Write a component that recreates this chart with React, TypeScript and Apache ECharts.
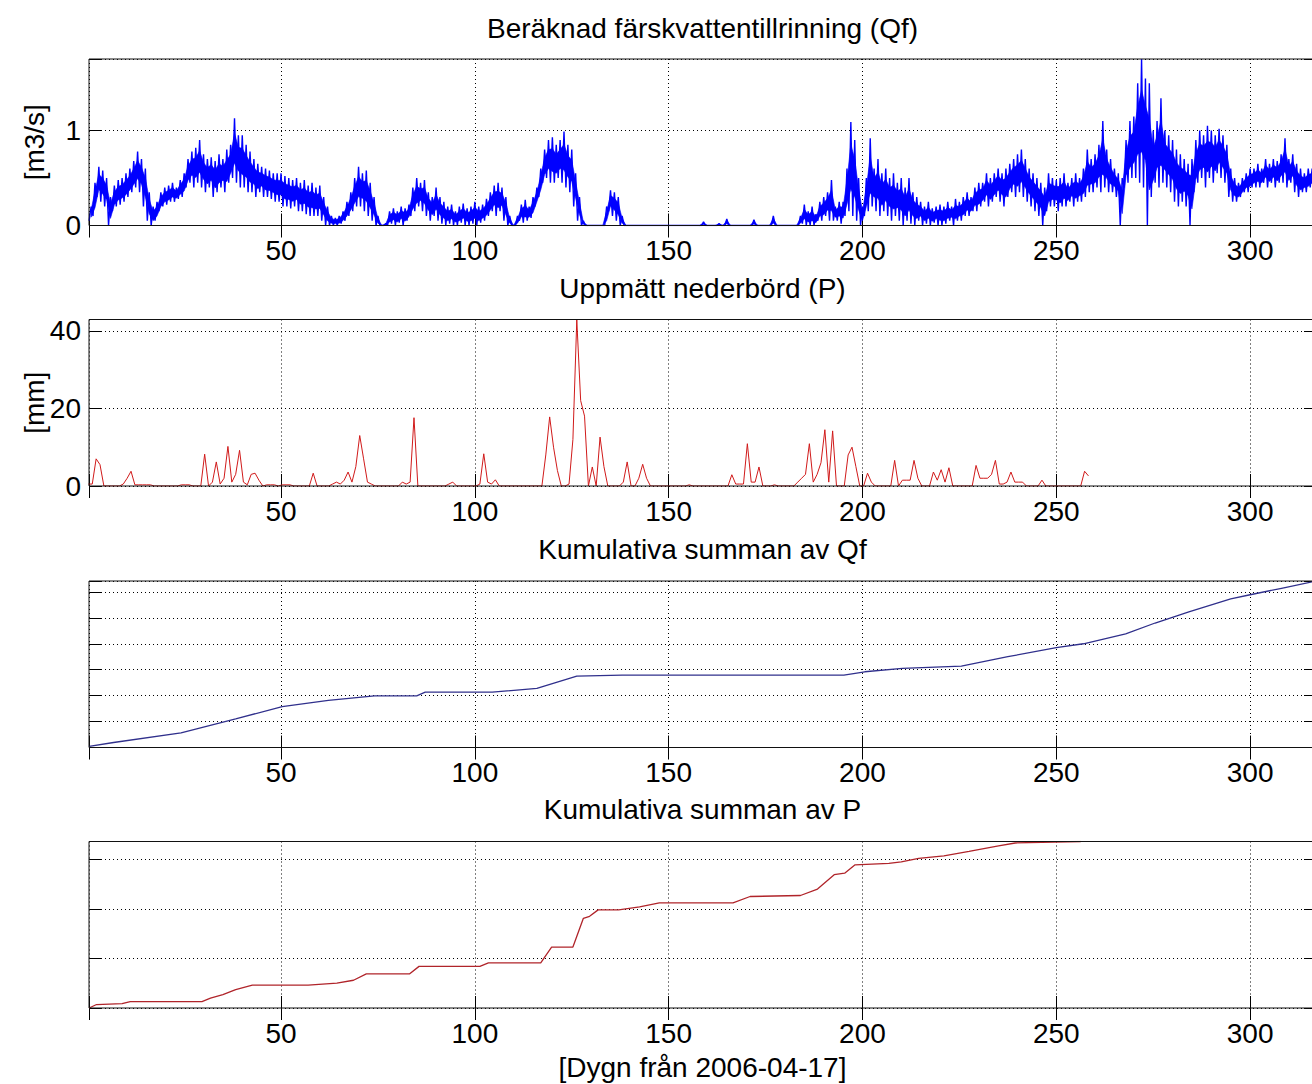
import React, { useEffect, useRef } from "react";
import * as echarts from "echarts";

// ---------- DATA ----------
// Qf: daily band (low / high) in m3/s, days 1..317
const qfHigh = [
  0.2, 0.45, 0.62, 0.58, 0.5, 0.3, 0.42, 0.48, 0.5, 0.55,
  0.6, 0.68, 0.78, 0.7, 0.6, 0.35, 0.2, 0.25, 0.35, 0.4,
  0.42, 0.45, 0.4, 0.48, 0.55, 0.7, 0.78, 0.82, 0.9, 0.75,
  0.7, 0.72, 0.68, 0.75, 0.7, 0.8, 0.85, 1.13, 0.95, 0.95,
  0.85, 0.78, 0.7, 0.65, 0.62, 0.6, 0.58, 0.55, 0.55, 0.55,
  0.52, 0.5, 0.48, 0.5, 0.45, 0.48, 0.42, 0.45, 0.4, 0.42,
  0.3, 0.2, 0.1, 0.08, 0.1, 0.15, 0.25, 0.35, 0.5, 0.62,
  0.55, 0.58, 0.45, 0.3, 0.1, 0.0, 0.02, 0.15, 0.18, 0.15,
  0.2, 0.18, 0.22, 0.4, 0.5, 0.45, 0.48, 0.35, 0.3, 0.4,
  0.3, 0.25, 0.2, 0.22, 0.15, 0.2, 0.23, 0.18, 0.2, 0.25,
  0.2, 0.22, 0.28, 0.35, 0.42, 0.45, 0.4, 0.3, 0.1, 0.0,
  0.1, 0.22, 0.27, 0.2, 0.3, 0.4, 0.6, 0.8, 0.9, 0.93,
  0.85, 0.9, 0.99, 0.85, 0.8, 0.55, 0.3, 0.05, 0, 0,
  0, 0, 0, 0.2, 0.37, 0.35, 0.3, 0.1, 0, 0,
  0, 0, 0, 0, 0, 0, 0, 0, 0, 0,
  0, 0, 0, 0, 0, 0, 0, 0, 0.04, 0,
  0, 0, 0.02, 0, 0.07, 0, 0, 0, 0, 0,
  0, 0.06, 0, 0, 0, 0, 0.1, 0, 0, 0,
  0, 0, 0, 0.1, 0.22, 0.15, 0.2, 0.12, 0.25, 0.3,
  0.35, 0.48, 0.2, 0.25, 0.25, 0.6, 1.09, 0.9, 0.5, 0.2,
  0.5, 0.92, 0.6, 0.7, 0.55, 0.6, 0.5, 0.55, 0.45, 0.5,
  0.4, 0.5, 0.35, 0.3, 0.25, 0.2, 0.25, 0.18, 0.2, 0.22,
  0.2, 0.25, 0.2, 0.28, 0.25, 0.3, 0.35, 0.3, 0.4, 0.45,
  0.45, 0.55, 0.5, 0.55, 0.6, 0.55, 0.6, 0.65, 0.7, 0.75,
  0.8, 0.7, 0.6, 0.55, 0.5, 0.45, 0.4, 0.55, 0.5, 0.48,
  0.5, 0.55, 0.45, 0.5, 0.55, 0.5, 0.6, 0.8, 0.7, 0.75,
  0.85, 1.1, 0.8, 0.7, 0.6, 0.55, 0.5, 0.9, 1.1, 1.15,
  1.5, 1.755, 1.55, 1.5, 1.0, 1.1, 1.34, 1.0, 0.95, 0.9,
  0.8, 0.75, 0.7, 0.65, 0.7, 0.9, 1.0, 0.95, 1.05, 1.0,
  0.95, 1.02, 0.95, 0.85, 0.6, 0.5, 0.45, 0.5, 0.55, 0.6,
  0.6, 0.65, 0.6, 0.7, 0.65, 0.7, 0.68, 0.75, 0.92, 0.7,
  0.75, 0.65, 0.6, 0.55, 0.6, 0.6, 0.55,
];
const qfLow = [
  0.05, 0.1, 0.3, 0.25, 0.2, 0.0, 0.15, 0.2, 0.22, 0.25,
  0.3, 0.35, 0.4, 0.35, 0.2, 0.05, 0.0, 0.05, 0.15, 0.2,
  0.22, 0.25, 0.25, 0.28, 0.3, 0.4, 0.45, 0.4, 0.45, 0.4,
  0.35, 0.4, 0.3, 0.35, 0.4, 0.35, 0.45, 0.5, 0.45, 0.4,
  0.4, 0.35, 0.35, 0.3, 0.35, 0.3, 0.3, 0.28, 0.25, 0.25,
  0.2, 0.2, 0.18, 0.2, 0.15, 0.15, 0.12, 0.1, 0.1, 0.1,
  0.05, 0, 0, 0, 0, 0.02, 0.05, 0.1, 0.15, 0.2,
  0.2, 0.15, 0.1, 0.05, 0, 0, 0, 0, 0.02, 0,
  0.03, 0, 0.05, 0.1, 0.15, 0.2, 0.15, 0.1, 0.05, 0.1,
  0.05, 0.02, 0, 0.02, 0, 0, 0.03, 0, 0, 0.02,
  0, 0.03, 0.05, 0.1, 0.15, 0.1, 0.15, 0.05, 0, 0,
  0, 0.05, 0.03, 0.05, 0.08, 0.2, 0.3, 0.45, 0.5, 0.45,
  0.45, 0.5, 0.45, 0.4, 0.35, 0.2, 0.05, 0, 0, 0,
  0, 0, 0, 0, 0.15, 0.1, 0.05, 0, 0, 0,
  0, 0, 0, 0, 0, 0, 0, 0, 0, 0,
  0, 0, 0, 0, 0, 0, 0, 0, 0, 0,
  0, 0, 0, 0, 0, 0, 0, 0, 0, 0,
  0, 0, 0, 0, 0, 0, 0, 0, 0, 0,
  0, 0, 0, 0, 0.02, 0, 0, 0, 0.05, 0.05,
  0.1, 0.05, 0.05, 0.05, 0.02, 0.1, 0.15, 0.1, 0.05, 0,
  0.1, 0.15, 0.2, 0.15, 0.1, 0.15, 0.1, 0.05, 0.1, 0.05,
  0, 0.05, 0.02, 0, 0.05, 0, 0.02, 0, 0.03, 0,
  0, 0.02, 0.05, 0, 0.05, 0.05, 0.1, 0.1, 0.15, 0.15,
  0.2, 0.25, 0.2, 0.25, 0.3, 0.25, 0.2, 0.3, 0.35, 0.3,
  0.35, 0.3, 0.25, 0.2, 0.15, 0.1, 0, 0.15, 0.2, 0.2,
  0.15, 0.2, 0.2, 0.25, 0.2, 0.25, 0.25, 0.3, 0.35, 0.35,
  0.4, 0.35, 0.4, 0.35, 0.35, 0.3, 0, 0.4, 0.45, 0.5,
  0.5, 0.45, 0.4, 0, 0.3, 0.45, 0.4, 0.45, 0.4, 0.35,
  0.25, 0.2, 0.25, 0.2, 0, 0.35, 0.45, 0.5, 0.4, 0.5,
  0.45, 0.55, 0.5, 0.45, 0.3, 0.25, 0.25, 0.3, 0.35, 0.35,
  0.4, 0.4, 0.4, 0.45, 0.4, 0.45, 0.4, 0.45, 0.45, 0.4,
  0.45, 0.35, 0.3, 0.35, 0.35, 0.4, 0.4,
];

// P: daily precipitation in mm, first value at day 0.3
const pFirstDay = 0.3;
const pVals = [
  0.5, 0.5, 7.0, 5.5, 0, 0, 0, 0, 0, 0.5,
  2.0, 3.8, 0.3, 0.3, 0.3, 0.3, 0.3, 0, 0, 0,
  0, 0, 0, 0, 0.3, 0.3, 0.3, 0, 0, 0,
  8.2, 0, 1.0, 6.2, 0.5, 2.0, 10.2, 1.0, 3.0, 9.2,
  1.0, 0.3, 3.0, 3.3, 1.5, 0, 0.3, 0.3, 0.3, 0,
  0.3, 0.3, 0.3, 0, 0, 0, 0, 0, 3.3, 0,
  0, 0, 0, 0.5, 1.0, 0.5, 1.5, 3.6, 1.0, 5.0,
  13.0, 7.0, 1.0, 0.5, 0, 0, 0, 0, 0, 0,
  0, 1.0, 0.5, 1.0, 17.6, 0, 0, 0, 0, 0,
  0, 0, 0, 0.5, 1.0, 0, 0, 0, 0, 0,
  0, 0.5, 8.3, 1.0, 0.5, 1.6, 0, 0, 0, 0,
  0, 0, 0, 0, 0, 0, 0, 0, 8.0, 17.8,
  10.0, 4.0, 0, 0, 0.5, 12.0, 42.8, 22.0, 18.0, 0,
  4.9, 0, 12.6, 5.0, 0, 0, 0, 0, 1.0, 6.2,
  0, 0, 2.0, 5.6, 2.0, 0, 0, 0, 0, 0,
  0, 0, 0, 0, 0, 0.3, 0, 0, 0, 0,
  0, 0, 0, 0, 0, 0, 2.9, 0.5, 0.5, 0.5,
  10.9, 1.0, 1.0, 4.9, 0, 0, 0, 0.3, 0, 0,
  0, 0, 0, 1.0, 2.0, 3.0, 10.9, 1.0, 3.0, 6.0,
  14.5, 1.0, 14.2, 0, 0, 0, 8.0, 10.0, 5.0, 0,
  0, 3.3, 1.0, 0, 0, 0, 0, 0, 6.6, 0,
  1.5, 1.5, 1.5, 6.6, 2.0, 0, 0, 0, 3.6, 1.5,
  4.2, 1.0, 4.7, 0, 0, 0, 0, 0, 0, 5.3,
  2.0, 2.0, 2.0, 3.0, 6.6, 0.5, 0.5, 1.0, 3.6, 1.0,
  1.0, 1.0, 0, 0, 0, 0, 1.5, 0, 0, 0,
  0, 0, 0, 0, 0, 0, 0, 3.8, 2.6,
];

// Cumulative Qf (10^6 m3), read at curve corners
const qfCumDays = [0.5, 6.8, 24.2, 38.3, 50.3, 62.2, 74.1, 85, 87.2, 104.5, 116, 126.3, 138, 195.2, 200.6, 210.3, 225.5, 237.5, 250, 257, 267.9, 275.5, 284.2, 295, 299.7, 308.1, 317];
const qfCumVals = [0.06, 0.29, 0.84, 1.65, 2.37, 2.73, 2.99, 2.99, 3.2, 3.2, 3.42, 4.13, 4.19, 4.19, 4.38, 4.58, 4.71, 5.25, 5.78, 6.0, 6.57, 7.2, 7.85, 8.6, 8.82, 9.21, 9.63];

// Cumulative P (mm), read at curve corners
const pCumDays = [0.5, 2.4, 9, 11.1, 29.6, 31.8, 35, 38.3, 42.6, 57, 64.4, 68.7, 72, 83.2, 85.6, 101.3, 103.5, 117, 119.8, 125.3, 128, 129.6, 131.8, 137.1, 142.5, 147.6, 166.6, 171, 184, 188.4, 192.7, 195.4, 198.1, 206.8, 210, 214.5, 221, 227.5, 235.1, 239.4, 256.3];
const pCumVals = [0, 10.5, 13, 19.5, 19.5, 30, 40.5, 55.5, 69, 69, 75, 84, 103.5, 103.5, 126, 126, 136.5, 136.5, 184.5, 184.5, 271.5, 277.5, 297, 297, 306, 318, 318, 337.5, 340.5, 360, 403.5, 408, 433.5, 438, 442.5, 453, 460.5, 474, 490.5, 499.5, 504];

const titles = [
  "Beräknad färskvattentillrinning (Qf)",
  "Uppmätt nederbörd (P)",
  "Kumulativa summan av Qf",
  "Kumulativa summan av P",
];
const yNames = ["[m3/s]", "[mm]", "", ""];
const xLabel = "[Dygn från 2006-04-17]";
const xTickStep = 50;
const xRange = [0.46, 317];
const yRanges = [
  { min: 0, max: 1.755, interval: 1 },
  { min: 0, max: 42.9, interval: 20 },
  { min: 0, max: 9.63, interval: 1.5 },
  { min: 0, max: 504, interval: 150 },
];
const showYLabels = [true, true, false, false];

// ---------- LAYOUT / STYLE ----------
const W = 1312;
const H = 1084;
const LEFT = 89;
const PW = 1227;
const PH = 166.5;
const TOPS = [59, 319.5, 581, 841.5];
const TITLE_Y = [28, 288.5, 549, 809.5];
const FONT = '"Liberation Sans", Arial, Helvetica, sans-serif';
const FS = 28;
const colors = ["#0000ff", "#d01a1a", "#30308c", "#b0242a"];
const widths = [1.4, 1, 1.3, 1.3];
const CORE = 0.25; // inset of the solid core band inside the low/high envelope

function isMultiple(v: number, step: number) {
  const r = v / step;
  return Math.abs(r - Math.round(r)) < 1e-6;
}

export default function App() {
  const ref = useRef<HTMLDivElement>(null);

  useEffect(() => {
    if (!ref.current) return;
    const chart = echarts.init(ref.current, null, { renderer: "svg", width: W, height: H });

    const qfData: number[][] = [];
    const coreData: number[][] = [];
    qfHigh.forEach((h, i) => {
      const d = i + 1;
      const lo = qfLow[i];
      qfData.push([d - 0.5, lo]);
      qfData.push([d, h]);
      coreData.push([d, lo + CORE * (h - lo), h - CORE * (h - lo)]);
    });
    const pData = pVals.map((v, i) => [i + pFirstDay, v]);
    const qfCumData = qfCumDays.map((d, i) => [d, qfCumVals[i]]);
    const pCumData = pCumDays.map((d, i) => [d, pCumVals[i]]);
    const seriesData = [qfData, pData, qfCumData, pCumData];

    const grids: any[] = [];
    const xAxes: any[] = [];
    const yAxes: any[] = [];
    const series: any[] = [];
    const tickStyle = { show: true, inside: true, length: 12, lineStyle: { color: "#000", width: 1 } };
    const dotted = { show: true, lineStyle: { color: "#000", width: 1, type: [1, 3] } };

    for (let k = 0; k < 4; k++) {
      grids.push({
        left: LEFT,
        top: TOPS[k],
        width: PW,
        height: PH,
        show: true,
        borderColor: "#111",
        borderWidth: 1,
        backgroundColor: "transparent",
        z: 10,
        containLabel: false,
        outerBoundsMode: "none",
      });
      const yr = yRanges[k];
      xAxes.push({
        type: "value",
        gridIndex: k,
        position: "bottom",
        min: xRange[0],
        max: xRange[1],
        minInterval: xTickStep,
        maxInterval: xTickStep,
        axisLine: { show: false },
        axisTick: tickStyle,
        axisLabel: {
          show: true,
          margin: 11,
          color: "#000",
          fontSize: FS,
          fontFamily: FONT,
          formatter: (v: number) => (v > 1 && isMultiple(v, xTickStep) ? String(Math.round(v)) : ""),
        },
        splitLine: dotted,
      });
      xAxes.push({
        type: "value",
        gridIndex: k,
        position: "top",
        min: xRange[0],
        max: xRange[1],
        minInterval: xTickStep,
        maxInterval: xTickStep,
        axisLine: { show: false },
        axisTick: tickStyle,
        axisLabel: { show: false },
        splitLine: { show: false },
      });
      yAxes.push({
        type: "value",
        gridIndex: k,
        position: "left",
        min: yr.min,
        max: yr.max,
        interval: yr.interval,
        axisLine: { show: false },
        axisTick: tickStyle,
        axisLabel: {
          show: showYLabels[k],
          margin: 8,
          color: "#000",
          fontSize: FS,
          fontFamily: FONT,
          formatter: (v: number) => (isMultiple(v, yr.interval) ? String(Math.round(v)) : ""),
        },
        splitLine: dotted,
      });
      yAxes.push({
        type: "value",
        gridIndex: k,
        position: "right",
        min: yr.min,
        max: yr.max,
        interval: yr.interval,
        axisLine: { show: false },
        axisTick: tickStyle,
        axisLabel: { show: false },
        splitLine: { show: false },
      });
      series.push({
        type: "line",
        xAxisIndex: 2 * k,
        yAxisIndex: 2 * k,
        data: seriesData[k],
        showSymbol: false,
        symbol: "none",
        lineStyle: { color: colors[k], width: widths[k] },
        clip: true,
        z: 4,
      });
    }

    // solid core of the Qf band, drawn as one polygon
    series.push({
      type: "custom",
      xAxisIndex: 0,
      yAxisIndex: 0,
      data: coreData,
      z: 3,
      renderItem: (params: any, api: any) => {
        if (params.dataIndex !== 0) return null;
        const upper = coreData.map((c) => api.coord([c[0], c[2]]));
        const lower = coreData.map((c) => api.coord([c[0], c[1]])).reverse();
        return {
          type: "polygon",
          shape: { points: upper.concat(lower) },
          style: { fill: "#0000ff", stroke: "#0000ff", lineWidth: 0.6 },
        };
      },
    });

    const graphics: any[] = titles.map((t, k) => ({
      type: "text",
      x: LEFT + PW / 2,
      y: TITLE_Y[k],
      style: { text: t, fontSize: FS, fontFamily: FONT, fill: "#000", align: "center", verticalAlign: "middle" },
    }));
    yNames.forEach((n, k) => {
      if (!n) return;
      graphics.push({
        type: "text",
        x: 34,
        y: TOPS[k] + PH / 2,
        rotation: Math.PI / 2,
        style: { text: n, fontSize: FS, fontFamily: FONT, fill: "#000", align: "center", verticalAlign: "middle" },
      });
    });
    graphics.push({
      type: "text",
      x: LEFT + PW / 2,
      y: 1067,
      style: { text: xLabel, fontSize: FS, fontFamily: FONT, fill: "#000", align: "center", verticalAlign: "middle" },
    });

    chart.setOption({
      animation: false,
      backgroundColor: "#ffffff",
      grid: grids,
      xAxis: xAxes,
      yAxis: yAxes,
      series,
      graphic: graphics,
    });

    return () => chart.dispose();
  }, []);

  return (
    <div
      ref={ref}
      style={{ position: "fixed", left: 0, top: 0, width: W, height: H, background: "#fff" }}
    />
  );
}
